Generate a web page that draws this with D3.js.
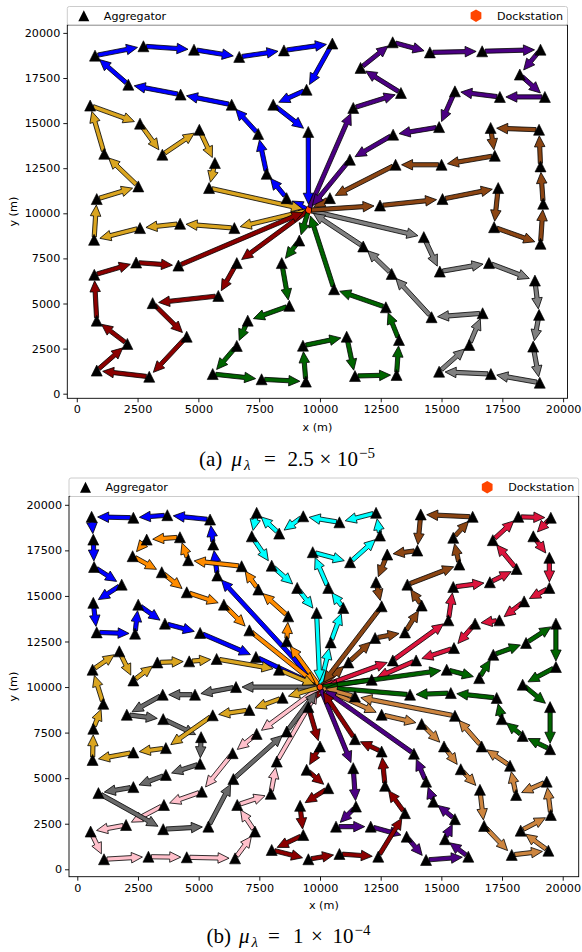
<!DOCTYPE html>
<html><head><meta charset="utf-8">
<script src="https://cdn.jsdelivr.net/npm/d3@7"></script>
<style>body{margin:0;background:#fff} svg{display:block}</style>
</head><body>
<svg id="fig" width="582" height="952"></svg>
<script>
// Shared tick values for both axes of both panels
const tickValues = [0, 2500, 5000, 7500, 10000, 12500, 15000, 17500, 20000];
const legendLabels = ["Aggregator", "Dockstation"];

// ---------- (a) mu_lambda = 2.5e-5 ----------
const dockA = [9530, 10170];
const blueA = [[8630,10840],[7810,12190],[7460,14400],[6370,16020],[4270,16580],[2120,17130],[750,18740],[2740,19260],[4820,19070],[6680,18670],[8520,19030],[10510,19410],[9450,16850],[8080,16020],[9520,14510]];
const goldA = [[6480,9180],[4250,9420],[2600,9180],[710,8530],[820,10790],[2530,11490],[1130,13300],[550,15970],[2600,14970],[3520,13250],[5040,14630],[5680,12790],[5440,11400]];
const redA = [[6580,7240],[5820,5420],[3120,5020],[4520,3160],[2980,940],[820,1280],[2080,2760],[820,4050],[720,6590],[2440,7270],[4180,7100]];
const greenA = [[9150,8490],[8430,7240],[8740,4870],[7030,4050],[6580,2650],[5590,1090],[7600,800],[9420,670],[9300,2660],[11100,3160],[11440,980],[13150,1040],[13250,2980],[12710,4790],[10580,5790]];
const greyA = [[14270,8680],[14930,6770],[16950,7240],[18840,6270],[19010,4370],[18770,2610],[19040,610],[17030,1090],[14900,1220],[16140,2700],[16690,4460],[14590,4240],[12950,6640],[11780,8160]];
const brownA = [[12470,10430],[15040,10790],[17330,11400],[17160,9230],[19070,8310],[19180,10530],[19070,12600],[19010,14630],[17020,14730],[17190,13190],[15000,12690],[13110,12690],[10410,10840]];
const purpleA = [[11370,15840],[13330,16670],[11670,18060],[12990,19480],[14520,18920],[16670,18980],[19070,19070],[18220,17690],[19250,16450],[17400,16450],[15550,16760],[14900,14780],[13010,14360],[11230,12970]];
const routesA = [blueA, goldA, redA, greenA, greyA, brownA, purpleA];
const coloursA = ["#0000ff", "#daa520", "#8b0000", "#006400", "#808080", "#8b4513", "#4b0082"];

// ---------- (b) mu_lambda = 1e-4 ----------
const dockB = [10000, 10000];
const blueB = [[5770,16120],[5600,17820],[5470,19190],[3710,19430],[2310,19290],[590,19340],[660,18090],[690,16590],[1830,15620],[660,14620],[800,13000],[2380,12930],[2510,14520],[3610,13480],[5060,12970],[7360,11650]];
const orangeB = [[8630,12510],[8690,13880],[7460,15350],[6770,16630],[4570,16960],[4230,18220],[2860,18090],[2280,17180],[3480,16300],[4510,15200],[6040,14520],[7090,13110]];
const cyanB = [[10440,12450],[10960,14340],[10340,15440],[9700,17400],[11240,16850],[12470,18310],[12310,19560],[10800,19040],[9310,19370],[8320,18420],[7390,19560],[7190,18270],[8010,16660],[9060,15440],[9860,14070]];
const brownB = [[11170,11350],[12270,12690],[13500,13000],[14190,14470],[13600,15620],[15740,16720],[15490,18190],[16290,19340],[14150,19470],[14010,17490],[12770,17270],[12310,15750],[12540,14430]];
const crimsonB = [[13000,11460],[15290,13660],[15490,15490],[17000,15750],[18100,16480],[17120,18060],[18170,19340],[19510,19290],[18790,18270],[19450,17090],[19450,15440],[18410,14700],[17390,13660],[16390,13480],[15520,12140],[13960,11460],[12130,10400]];
const greenB = [[15220,10950],[16560,10490],[17140,11770],[18490,12420],[19720,13480],[19720,11100],[18350,10130],[19480,8900],[19480,6590],[18350,7320],[17490,8240],[17280,9400],[15390,9670],[13710,9580]];
const peruB = [[12540,8480],[14190,7970],[15110,6740],[15800,5490],[16590,4360],[16760,2380],[17900,790],[19410,1020],[18270,2120],[19510,2980],[19340,4810],[18080,4080],[17830,5680],[16660,6740],[15560,8420],[11440,9480]];
const indigoB = [[11370,5550],[11480,3440],[10660,2340],[12090,2340],[13570,1790],[14370,510],[16110,690],[15150,1650],[15560,2750],[14670,3710],[14370,4810],[13870,6340]];
const maroonB = [[9520,8900],[10000,6740],[9450,5460],[10340,4450],[9180,3480],[9310,1880],[8010,1060],[9520,550],[10800,840],[12400,690],[13500,3080],[12680,4580],[12540,6460],[11440,7140]];
const pinkB = [[7390,7430],[6400,6370],[5130,4260],[3570,3530],[2010,2430],[550,2070],[1100,550],[2930,690],[4510,660],[6500,600],[7320,2070],[6590,3530],[7970,4140],[8220,5910]];
const greyB = [[6540,10000],[4850,9580],[3520,9580],[2040,8480],[3540,8240],[5100,7250],[5060,5790],[3650,5180],[2310,4510],[870,4180],[3540,2200],[5400,2340],[6430,4950],[8630,7560]];
const goldB = [[8460,9410],[7090,8740],[5580,8450],[3650,6650],[2310,6410],[630,6000],[660,7710],[1070,9080],[630,10950],[1730,11960],[2310,10360],[3300,11350],[4610,11410],[5740,11540],[8310,10950]];
const routesB = [blueB, orangeB, cyanB, brownB, crimsonB, greenB, peruB, indigoB, maroonB, pinkB, greyB, goldB];
const coloursB = ["#0000ff", "#ff8c00", "#00ffff", "#8b4513", "#dc143c", "#006400", "#cd853f", "#4b0082", "#8b0000", "#ffc0cb", "#696969", "#daa520"];

const svg = d3.select("#fig");
const FONT = "'DejaVu Sans', sans-serif";
const DOCK_COLOUR = "#ff4500";

// Arrow geometry (pixels)
const SHAFT = 4.2, HEAD_W = 10.5, HEAD_L = 11, TAIL_GAP = 3, TIP_GAP = 6;
const lineGen = d3.line();

function arrowPath(p0, p1) {
  const dx = p1[0] - p0[0], dy = p1[1] - p0[1];
  const L = Math.hypot(dx, dy);
  const ux = dx / L, uy = dy / L, nx = -uy, ny = ux;
  const s = [p0[0] + ux * TAIL_GAP, p0[1] + uy * TAIL_GAP];
  const e = [p1[0] - ux * TIP_GAP, p1[1] - uy * TIP_GAP];
  const b = [e[0] - ux * HEAD_L, e[1] - uy * HEAD_L];
  const hw = HEAD_W / 2, sw = SHAFT / 2;
  return lineGen([
    [s[0] + nx * sw, s[1] + ny * sw],
    [b[0] + nx * sw, b[1] + ny * sw],
    [b[0] + nx * hw, b[1] + ny * hw],
    e,
    [b[0] - nx * hw, b[1] - ny * hw],
    [b[0] - nx * sw, b[1] - ny * sw],
    [s[0] - nx * sw, s[1] - ny * sw]
  ]) + "Z";
}

const triPath = "M0,-5.5L5.5,5.5L-5.5,5.5Z";
function hexPath(r) {
  const pts = d3.range(6).map(i => {
    const a = Math.PI / 2 + i * Math.PI / 3;
    return [r * Math.cos(a), -r * Math.sin(a)];
  });
  return lineGen(pts) + "Z";
}

function drawPanel(cfg) {
  const g = svg.append("g");
  const x = d3.scaleLinear().domain(cfg.xDomain).range([cfg.left, cfg.right]);
  const y = d3.scaleLinear().domain(cfg.yDomain).range([cfg.bottom, cfg.top]);

  // axes
  const xa = g.append("g").attr("transform", `translate(0,${cfg.bottom})`)
    .call(d3.axisBottom(x).tickValues(tickValues).tickSize(4).tickPadding(3).tickFormat(d3.format("d")));
  const ya = g.append("g").attr("transform", `translate(${cfg.left},0)`)
    .call(d3.axisLeft(y).tickValues(tickValues).tickSize(4).tickPadding(3).tickFormat(d3.format("d")));
  [xa, ya].forEach(a => {
    a.select(".domain").remove();
    a.selectAll("text").attr("font-family", FONT).attr("font-size", 11.2).attr("fill", "#000");
    a.selectAll("line").attr("stroke", "#000").attr("stroke-width", 0.9);
  });

  // dockstation
  g.append("path").attr("d", hexPath(4.5))
    .attr("transform", `translate(${x(cfg.dock[0])},${y(cfg.dock[1])})`)
    .attr("fill", DOCK_COLOUR);

  // routes: dock -> aggregators -> dock
  const arrows = g.append("g");
  cfg.routes.forEach((r, i) => {
    const pts = [cfg.dock, ...r, cfg.dock].map(p => [x(p[0]), y(p[1])]);
    const segs = d3.pairs(pts);
    arrows.append("g").selectAll("path").data(segs).join("path")
      .attr("d", d => arrowPath(d[0], d[1]))
      .attr("fill", cfg.colours[i])
      .attr("stroke", "#000").attr("stroke-width", 0.8).attr("stroke-linejoin", "miter");
  });

  // aggregator markers
  const all = cfg.routes.flat();
  g.append("g").selectAll("path").data(all).join("path")
    .attr("d", triPath)
    .attr("transform", d => `translate(${x(d[0])},${y(d[1])})`)
    .attr("fill", "#000").attr("stroke", "#000").attr("stroke-width", 0.6);

  // frame
  g.append("rect").attr("x", cfg.left).attr("y", cfg.top)
    .attr("width", cfg.right - cfg.left).attr("height", cfg.bottom - cfg.top)
    .attr("fill", "none").attr("stroke", "#000").attr("stroke-width", 0.9);

  // legend bar above the axes
  const lg = g.append("g");
  lg.append("rect").attr("x", cfg.left).attr("y", cfg.top - 18.5)
    .attr("width", cfg.right - cfg.left).attr("height", 18.5)
    .attr("rx", 2).attr("fill", "#fff").attr("fill-opacity", 0.8)
    .attr("stroke", "#cccccc").attr("stroke-width", 1);
  const ly = cfg.top - 9.3;
  lg.append("path").attr("d", triPath)
    .attr("transform", `translate(${cfg.left + 16.5},${ly})`).attr("fill", "#000");
  lg.append("text").attr("x", cfg.left + 36.5).attr("y", ly + 4)
    .attr("font-family", FONT).attr("font-size", 11.1).text(legendLabels[0]);
  lg.append("path").attr("d", hexPath(6.2))
    .attr("transform", `translate(${cfg.right - 91.5},${ly})`).attr("fill", DOCK_COLOUR);
  lg.append("text").attr("x", cfg.right - 4.5).attr("y", ly + 4).attr("text-anchor", "end")
    .attr("font-family", FONT).attr("font-size", 11.1).text(legendLabels[1]);

  // axis labels
  g.append("text").attr("x", (cfg.left + cfg.right) / 2).attr("y", cfg.bottom + 32.5)
    .attr("text-anchor", "middle").attr("font-family", FONT).attr("font-size", 11.2).text("x (m)");
  g.append("text").attr("transform", `translate(17,${(cfg.top + cfg.bottom) / 2}) rotate(-90)`)
    .attr("text-anchor", "middle").attr("font-family", FONT).attr("font-size", 11.2).text("y (m)");

  // caption
  const cap = g.append("g").attr("font-family", "'Liberation Serif', 'DejaVu Serif', serif").attr("fill", "#000");
  const base = cfg.captionY;
  cfg.caption.forEach(p => {
    cap.append("text").attr("x", p.x).attr("y", base + (p.dy || 0))
      .attr("font-size", p.size || 21).attr("font-style", p.italic ? "italic" : "normal").text(p.t);
  });
}

drawPanel({
  left: 67.3, right: 567.5, top: 25, bottom: 398.3,
  xDomain: [-390, 20180], yDomain: [-255, 20438],
  dock: dockA, routes: routesA, colours: coloursA,
  captionY: 466,
  caption: [
    {t: "(a)", x: 199}, {t: "μ", x: 231.5, italic: true}, {t: "λ", x: 244, italic: true, size: 15, dy: 3.5},
    {t: "=", x: 264}, {t: "2.5", x: 287.5}, {t: "×", x: 319.5}, {t: "10", x: 337},
    {t: "−5", x: 359, size: 15, dy: -8.5}
  ]
});

drawPanel({
  left: 69, right: 578.7, top: 496.5, bottom: 876.7,
  xDomain: [-342, 20659], yDomain: [-407, 20456],
  dock: dockB, routes: routesB, colours: coloursB,
  captionY: 943,
  caption: [
    {t: "(b)", x: 206.5}, {t: "μ", x: 239, italic: true}, {t: "λ", x: 251.5, italic: true, size: 15, dy: 3.5},
    {t: "=", x: 268}, {t: "1", x: 293}, {t: "×", x: 311}, {t: "10", x: 332.5},
    {t: "−4", x: 354.5, size: 15, dy: -8.5}
  ]
});
</script>
</body></html>
